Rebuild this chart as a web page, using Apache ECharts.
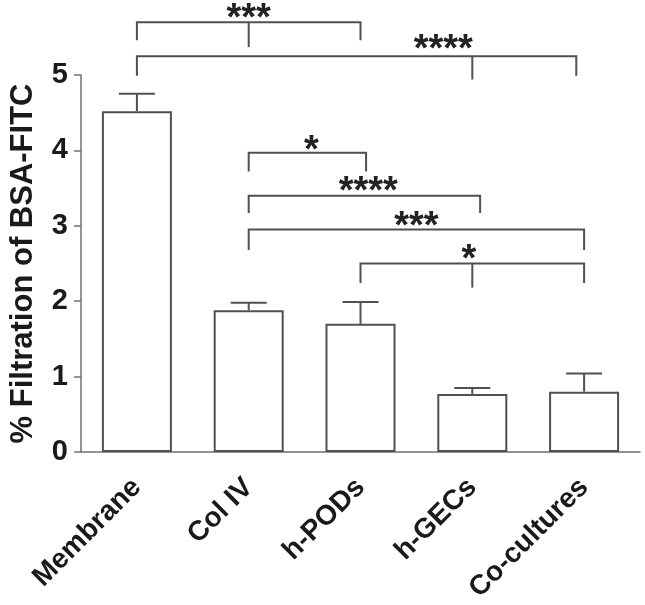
<!DOCTYPE html>
<html>
<head>
<meta charset="utf-8">
<script src="https://cdn.jsdelivr.net/npm/echarts@6/dist/echarts.min.js"></script>
<style>html,body{margin:0;padding:0;background:#fff}#c{width:645px;height:605px}</style>
</head>
<body>
<div id="c"></div>
<script>
// ---- data ----
const categories = ['Membrane', 'Col IV', 'h-PODs', 'h-GECs', 'Co-cultures'];
const means = [4.52, 1.88, 1.70, 0.77, 0.80];
const upperErr = [4.75, 1.98, 1.99, 0.85, 1.04];
const yTicks = [0, 1, 2, 3, 4, 5];

// significance brackets (x in category index units, y in axis units)
const bracketFrom = [0, 0, 1, 1, 1, 2];
const bracketTo = [2, 3.93, 2.05, 3.07, 4, 4];
const bracketMid = [1, 3, null, null, null, 3];
const bracketY = [5.70, 5.25, 3.97, 3.40, 2.95, 2.50];
const bracketLegEnd = [5.46, 4.99, 3.72, 3.17, 2.68, 2.24];
const bracketMidEnd = [5.37, 4.94, null, null, null, 2.18];
const starText = ['***', '****', '*', '****', '***', '*'];
const starX = [1.0, 2.74, 1.56, 2.07, 2.50, 2.97];
const starY = [5.73, 5.33, 3.98, 3.44, 2.98, 2.54];

const FONT = 'Liberation Sans, Arial, Helvetica, sans-serif';
const LINE = '#505050';
const AXIS = '#707070';

const chart = echarts.init(document.getElementById('c'), null, {renderer: 'canvas'});
chart.setOption({
  animation: false,
  backgroundColor: '#fff',
  grid: {left: 73, top: 75, right: 5, bottom: 149, containLabel: false},
  xAxis: [{
    type: 'category',
    data: categories,
    axisLine: {onZero: false, lineStyle: {color: AXIS, width: 1.5}},
    axisTick: {alignWithLabel: true, length: 10, lineStyle: {color: AXIS, width: 1.5}},
    axisLabel: {rotate: 45, margin: 31, fontFamily: FONT, fontWeight: 'bold', fontSize: 28, color: '#1a1a1a', interval: 0}
  }, {
    type: 'value', min: -0.5, max: 4.5, show: false
  }],
  yAxis: {
    type: 'value', min: yTicks[0], max: yTicks[yTicks.length - 1], interval: 1,
    name: '% Filtration of BSA-FITC', nameLocation: 'middle', nameGap: 42,
    nameTextStyle: {fontFamily: FONT, fontWeight: 'bold', fontSize: 31, color: '#1a1a1a'},
    axisLine: {show: true, onZero: false, lineStyle: {color: AXIS, width: 1.5}},
    axisTick: {show: true, length: 7, lineStyle: {color: AXIS, width: 1.5}},
    axisLabel: {margin: 13, fontFamily: FONT, fontWeight: 'bold', fontSize: 29, color: '#1a1a1a'},
    splitLine: {show: false}
  },
  series: [{
    type: 'bar',
    data: means,
    barWidth: 70,
    itemStyle: {color: '#fff', borderColor: LINE, borderWidth: 2},
    silent: true
  }, {
    type: 'custom',
    xAxisIndex: 0,
    data: means.map((m, i) => [i, m, upperErr[i]]),
    renderItem: function (params, api) {
      const p0 = api.coord([api.value(0), api.value(1)]);
      const p1 = api.coord([api.value(0), api.value(2)]);
      const hw = 18;
      return {type: 'group', children: [
        {type: 'line', shape: {x1: p0[0], y1: p0[1], x2: p1[0], y2: p1[1]}, style: {stroke: LINE, lineWidth: 2}},
        {type: 'line', shape: {x1: p1[0] - hw, y1: p1[1], x2: p1[0] + hw, y2: p1[1]}, style: {stroke: LINE, lineWidth: 2}}
      ]};
    },
    z: 3
  }, {
    type: 'custom',
    xAxisIndex: 1,
    clip: false,
    data: bracketY.map((y, i) => [bracketFrom[i], y]),
    renderItem: function (params, api) {
      const i = params.dataIndex;
      const a = api.coord([bracketFrom[i], bracketY[i]]);
      const b = api.coord([bracketTo[i], bracketY[i]]);
      const aL = api.coord([bracketFrom[i], bracketLegEnd[i]]);
      const bL = api.coord([bracketTo[i], bracketLegEnd[i]]);
      const st = {stroke: LINE, lineWidth: 2, fill: null};
      const children = [
        {type: 'polyline', shape: {points: [aL, a, b, bL]}, style: st}
      ];
      if (bracketMid[i] !== null) {
        const m0 = api.coord([bracketMid[i], bracketY[i]]);
        const m1 = api.coord([bracketMid[i], bracketMidEnd[i]]);
        children.push({type: 'line', shape: {x1: m0[0], y1: m0[1], x2: m1[0], y2: m1[1]}, style: {stroke: LINE, lineWidth: 2}});
      }
      const t = api.coord([starX[i], starY[i]]);
      children.push({type: 'text', x: t[0], y: t[1], style: {
        text: starText[i], fill: '#222', fontFamily: FONT, fontWeight: 'bold', fontSize: 38,
        align: 'center', verticalAlign: 'middle'
      }});
      return {type: 'group', children: children};
    },
    z: 4
  }]
});
</script>
</body>
</html>
